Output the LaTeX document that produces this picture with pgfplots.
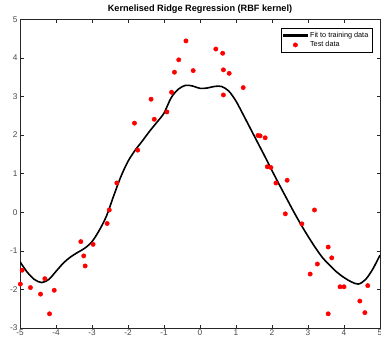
\documentclass[border=0pt]{standalone}
\usepackage{pgfplots}
\pgfplotsset{compat=1.18}
\usepackage{fontspec}
\setmainfont{Liberation Sans}
\definecolor{axgray}{RGB}{38,38,38}
\definecolor{lblgray}{RGB}{70,70,70}

\begin{document}
\begin{tikzpicture}
\begin{axis}[
  scale only axis,
  width=360bp, height=308.8bp,
  xmin=-5, xmax=5, ymin=-3, ymax=5,
  xtick distance=1, ytick distance=1,
  tick align=inside,
  major tick length=3.5bp,
  axis line style={axgray, line width=0.5pt},
  tick style={axgray, line width=0.5pt},
  ticklabel style={font=\fontsize{8.3}{9}\selectfont, text=lblgray},
  xticklabel style={yshift=1.5bp},
  yticklabel style={xshift=1bp},
  /pgf/number format/assume math mode=true,
  title={\bfseries Kernelised Ridge Regression (RBF kernel)},
  title style={font=\fontsize{9.2}{10}\selectfont, at={(0.5,1)}, anchor=south, yshift=-3.5bp},
  legend style={at={(1,1)}, anchor=north east, xshift=-7.7bp, yshift=-9bp,
    draw=black, fill=white,
    font=\fontsize{7.3}{8.5}\selectfont, inner sep=1.8bp,
    row sep=-1.5bp, cells={anchor=west}},
]

% kernel ridge regression fit
\addplot[black, line width=1.6bp, smooth, tension=0.5,
  legend image code/.code={\fill[black] (0cm,-0.8bp) rectangle (0.84cm,0.8bp);}] coordinates {
(-5,-1.28) (-4.8,-1.55) (-4.6,-1.74) (-4.4,-1.82) (-4.2,-1.74) (-4.0,-1.53)
(-3.8,-1.32) (-3.6,-1.16) (-3.4,-1.04) (-3.2,-0.93) (-3.0,-0.76) (-2.8,-0.47)
(-2.6,-0.10) (-2.4,0.42) (-2.2,0.92) (-2.0,1.32) (-1.8,1.61) (-1.6,1.85)
(-1.4,2.10) (-1.2,2.33) (-1.0,2.57) (-0.8,2.97) (-0.6,3.19) (-0.4,3.29)
(-0.2,3.27) (0,3.21) (0.2,3.22) (0.4,3.26) (0.6,3.26) (0.8,3.14) (1.0,2.88)
(1.2,2.53) (1.4,2.17) (1.6,1.81) (1.8,1.45) (2.0,1.08) (2.2,0.72) (2.4,0.37)
(2.6,0.02) (2.8,-0.31) (3.0,-0.62) (3.2,-0.91) (3.4,-1.17) (3.6,-1.37)
(3.8,-1.55) (4.0,-1.69) (4.2,-1.80) (4.4,-1.86) (4.6,-1.74) (4.8,-1.47) (5,-1.11)
};
\addlegendentry{Fit to training data}

% held-out test samples
\addplot[only marks, mark=*, mark size=2.2bp, mark options={draw=red, fill=red}, red,
  legend image code/.code={\fill[red] (0.42cm,0cm) circle[radius=2.2bp];}] coordinates {
(-4.99,-1.86) (-4.94,-1.50) (-4.71,-1.95) (-4.43,-2.12) (-4.31,-1.72)
(-4.18,-2.63) (-4.05,-2.02) (-3.31,-0.76) (-3.23,-1.13) (-3.19,-1.39)
(-2.97,-0.83) (-2.58,-0.29) (-2.52,0.06) (-2.31,0.76) (-1.82,2.31)
(-1.73,1.61) (-1.27,2.41) (-0.92,2.60) (-1.36,2.93) (-0.79,3.11)
(-0.71,3.63) (-0.59,3.95) (-0.39,4.44) (-0.19,3.67) (0.44,4.23)
(0.63,4.12) (0.65,3.69) (0.81,3.60) (0.65,3.04) (1.20,3.23)
(1.61,1.99) (1.67,1.98) (1.81,1.93) (1.87,1.18) (1.97,1.16)
(2.11,0.76) (2.42,0.83) (2.37,-0.04) (3.18,0.06) (2.83,-0.30)
(3.56,-0.90) (3.66,-1.18) (3.26,-1.34) (3.06,-1.60) (3.89,-1.93)
(4.00,-1.93) (4.66,-1.90) (4.44,-2.30) (4.58,-2.60) (3.56,-2.63)
};
\addlegendentry{Test data}
\end{axis}
\pgfresetboundingbox
\path ([xshift=-20bp,yshift=-15.2bp]current axis.south west)
  rectangle ([xshift=1bp,yshift=19.3bp]current axis.north east);
\end{tikzpicture}
\end{document}
